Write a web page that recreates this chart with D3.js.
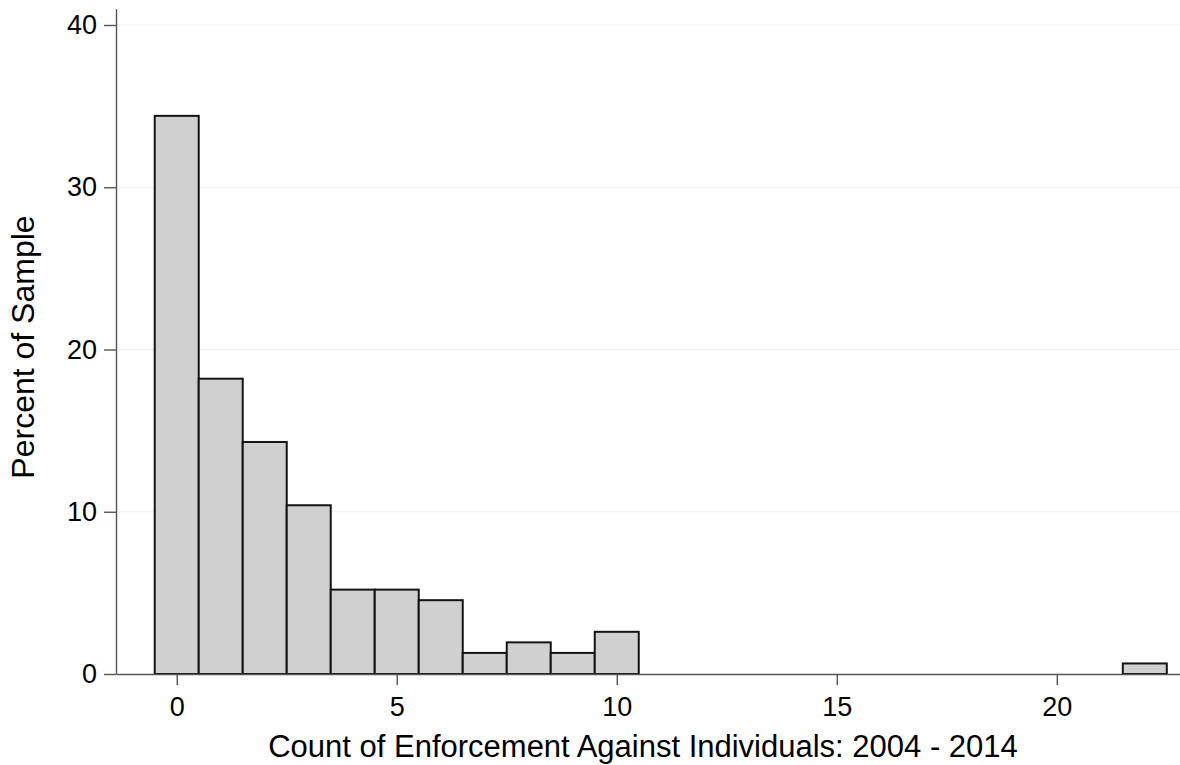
<!DOCTYPE html>
<html>
<head>
<meta charset="utf-8">
<script src="https://cdn.jsdelivr.net/npm/d3@7"></script>
<style>
  html, body { margin: 0; padding: 0; background: #fff; }
  svg text { font-family: "Liberation Sans", Arial, Helvetica, sans-serif; fill: #000; }
</style>
</head>
<body>
<div id="chart"></div>
<script>
// histogram bins (count of enforcement) and percent of sample
const bins = [0, 1, 2, 3, 4, 5, 6, 7, 8, 9, 10, 22];
const percents = [34.4, 18.2, 14.3, 10.4, 5.2, 5.2, 4.55, 1.3, 1.95, 1.3, 2.6, 0.65];
const xTicks = [0, 5, 10, 15, 20];
const yTicks = [0, 10, 20, 30, 40];

const xTitle = "Count of Enforcement Against Individuals: 2004 - 2014";
const yTitle = "Percent of Sample";

const width = 1180, height = 765;

const data = bins.map((b, i) => ({ bin: b, pct: percents[i] }));

const svg = d3.select("#chart")
    .append("svg")
    .attr("width", width)
    .attr("height", height);

// scales
const x = d3.scaleLinear()
    .domain([-1.38, 22.8])
    .range([116, 1180]);

const y = d3.scaleLinear()
    .domain([0, 41])
    .range([674, 674 - 41 * 16.225]);

// faint grid lines
svg.append("g")
    .selectAll("line")
    .data(yTicks.filter(d => d > 0))
    .join("line")
    .attr("x1", x.range()[0])
    .attr("x2", x.range()[1])
    .attr("y1", d => y(d))
    .attr("y2", d => y(d))
    .attr("stroke", "#f0f0f0")
    .attr("stroke-width", 1);

// bars
svg.append("g")
    .selectAll("rect")
    .data(data)
    .join("rect")
    .attr("x", d => x(d.bin - 0.5))
    .attr("y", d => y(d.pct))
    .attr("width", d => x(d.bin + 0.5) - x(d.bin - 0.5))
    .attr("height", d => y(0) - y(d.pct))
    .attr("fill", "#d0d0d0")
    .attr("stroke", "#141414")
    .attr("stroke-width", 2);

// y axis
const yAxis = svg.append("g")
    .attr("transform", `translate(${x.range()[0]},0)`)
    .call(d3.axisLeft(y).tickValues(yTicks).tickSize(12).tickSizeOuter(0).tickPadding(7));

// x axis
const xAxis = svg.append("g")
    .attr("transform", `translate(0,${y(0)})`)
    .call(d3.axisBottom(x).tickValues(xTicks).tickSize(11).tickSizeOuter(0).tickPadding(12));

[yAxis, xAxis].forEach(ax => {
    ax.select(".domain").attr("stroke", "#555").attr("stroke-width", 1.4);
    ax.selectAll(".tick line").attr("stroke", "#555").attr("stroke-width", 1.4);
    ax.selectAll(".tick text")
        .style("font-size", "27px")
        .style("font-family", "'Liberation Sans', Arial, Helvetica, sans-serif")
        .attr("fill", "#000");
});

// axis titles
svg.append("text")
    .attr("x", 643)
    .attr("y", 757)
    .attr("text-anchor", "middle")
    .style("font-size", "31px")
    .text(xTitle);

svg.append("text")
    .attr("transform", "translate(34,347) rotate(-90)")
    .attr("text-anchor", "middle")
    .style("font-size", "32px")
    .text(yTitle);
</script>
</body>
</html>
